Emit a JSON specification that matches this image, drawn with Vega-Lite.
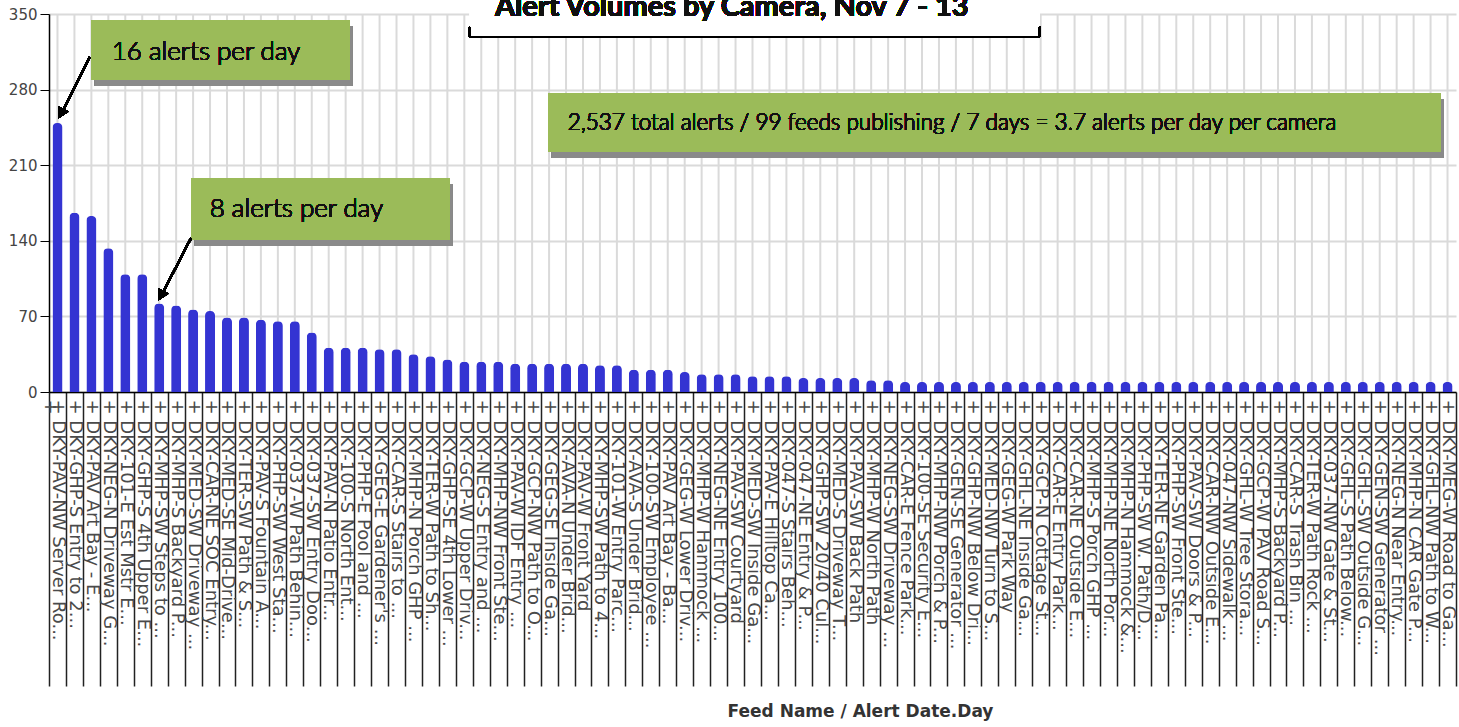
{
  "$schema": "https://vega.github.io/schema/vega-lite/v6.json",
  "autosize": {"type": "none"},
  "padding": {"left": 49, "top": 14, "right": 3, "bottom": 335},
  "width": 1407,
  "height": 378,
  "background": "white",
  "config": {"view": {"stroke": null}},
  "data": {"values": [
    {"feed": "DKY-PAV-NW Server Ro...", "alerts": 249},
    {"feed": "DKY-GHP-S Entry to 2...", "alerts": 166},
    {"feed": "DKY-PAV Art Bay - E...", "alerts": 163},
    {"feed": "DKY-NEG-N Driveway G...", "alerts": 133},
    {"feed": "DKY-101-E Est Mstr E...", "alerts": 109},
    {"feed": "DKY-GHP-S 4th Upper E...", "alerts": 109},
    {"feed": "DKY-MHP-SW Steps to ...", "alerts": 82},
    {"feed": "DKY-MHP-S Backyard P...", "alerts": 80},
    {"feed": "DKY-MED-SW Driveway ...", "alerts": 76.5},
    {"feed": "DKY-CAR-NE SOC Entry...", "alerts": 75},
    {"feed": "DKY-MED-SE Mid-Drive...", "alerts": 69},
    {"feed": "DKY-TER-SW Path & S...", "alerts": 69},
    {"feed": "DKY-PAV-S Fountain A...", "alerts": 67},
    {"feed": "DKY-PHP-SW West Sta...", "alerts": 65.5},
    {"feed": "DKY-037-W Path Behin...", "alerts": 65.5},
    {"feed": "DKY-037-SW Entry Doo...", "alerts": 55},
    {"feed": "DKY-PAV-N Patio Entr...", "alerts": 41},
    {"feed": "DKY-100-S North Ent...", "alerts": 41},
    {"feed": "DKY-PHP-E Pool and ...", "alerts": 41},
    {"feed": "DKY-GEG-E Gardener's ...", "alerts": 39.5},
    {"feed": "DKY-CAR-S Stairs to ...", "alerts": 39.5},
    {"feed": "DKY-MHP-N Porch GHP ...", "alerts": 35},
    {"feed": "DKY-TER-W Path to Sh...", "alerts": 33},
    {"feed": "DKY-GHP-SE 4th Lower ...", "alerts": 30},
    {"feed": "DKY-GCP-W Upper Driv...", "alerts": 28},
    {"feed": "DKY-NEG-S Entry and ...", "alerts": 28},
    {"feed": "DKY-MHP-NW Front Ste...", "alerts": 28},
    {"feed": "DKY-PAV-W IDF Entry ...", "alerts": 26.2},
    {"feed": "DKY-GCP-NW Path to O...", "alerts": 26.2},
    {"feed": "DKY-GEG-SE Inside Ga...", "alerts": 26.2},
    {"feed": "DKY-AVA-N Under Brid...", "alerts": 26.2},
    {"feed": "DKY-PAV-W Front Yard", "alerts": 26.2},
    {"feed": "DKY-MHP-SW Path to 4...", "alerts": 24.7},
    {"feed": "DKY-101-W Entry Parc...", "alerts": 24.7},
    {"feed": "DKY-AVA-S Under Brid...", "alerts": 20.7},
    {"feed": "DKY-100-SW Employee ...", "alerts": 20.7},
    {"feed": "DKY-PAV Art Bay - Ba...", "alerts": 20.7},
    {"feed": "DKY-GEG-W Lower Driv...", "alerts": 18.5},
    {"feed": "DKY-MHP-W Hammock ...", "alerts": 16.4},
    {"feed": "DKY-NEG-NE Entry 100...", "alerts": 16.4},
    {"feed": "DKY-PAV-SW Courtyard", "alerts": 16.4},
    {"feed": "DKY-MED-SW Inside Ga...", "alerts": 14.5},
    {"feed": "DKY-PAV-E Hilltop Ca...", "alerts": 14.5},
    {"feed": "DKY-047-S Stairs Beh...", "alerts": 14.5},
    {"feed": "DKY-047-NE Entry & P...", "alerts": 13},
    {"feed": "DKY-GHP-SW 20/40 Cul...", "alerts": 13},
    {"feed": "DKY-MED-S Driveway T...", "alerts": 13},
    {"feed": "DKY-PAV-SW Back Path", "alerts": 13},
    {"feed": "DKY-MHP-W North Path", "alerts": 10.8},
    {"feed": "DKY-NEG-SW Driveway ...", "alerts": 10.8},
    {"feed": "DKY-CAR-E Fence Park...", "alerts": 9.3},
    {"feed": "DKY-100-SE Security E...", "alerts": 9.3},
    {"feed": "DKY-MHP-NW Porch & P...", "alerts": 9.3},
    {"feed": "DKY-GEN-SE Generator ...", "alerts": 9.3},
    {"feed": "DKY-GHP-NW Below Dri...", "alerts": 9.3},
    {"feed": "DKY-MED-NW Turn to S...", "alerts": 9.3},
    {"feed": "DKY-GEG-W Park Way", "alerts": 9.3},
    {"feed": "DKY-GHL-NE Inside Ga...", "alerts": 9.3},
    {"feed": "DKY-GCP-N Cottage St...", "alerts": 9.3},
    {"feed": "DKY-CAR-E Entry Park...", "alerts": 9.3},
    {"feed": "DKY-CAR-NE Outside E...", "alerts": 9.3},
    {"feed": "DKY-MHP-S Porch GHP ...", "alerts": 9.3},
    {"feed": "DKY-MHP-NE North Por...", "alerts": 9.3},
    {"feed": "DKY-MHP-N Hammock &...", "alerts": 9.3},
    {"feed": "DKY-PHP-SW W. Path/D...", "alerts": 9.3},
    {"feed": "DKY-TER-NE Garden Pa...", "alerts": 9.3},
    {"feed": "DKY-PHP-SW Front Ste...", "alerts": 9.3},
    {"feed": "DKY-PAV-SW Doors & P...", "alerts": 9.3},
    {"feed": "DKY-CAR-NW Outside E...", "alerts": 9.3},
    {"feed": "DKY-047-NW Sidewalk ...", "alerts": 9.3},
    {"feed": "DKY-GHL-W Tree Stora...", "alerts": 9.3},
    {"feed": "DKY-GCP-W PAV Road S...", "alerts": 9.3},
    {"feed": "DKY-MHP-S Backyard P... ", "alerts": 9.3},
    {"feed": "DKY-CAR-S Trash Bin ...", "alerts": 9.3},
    {"feed": "DKY-TER-W Path Rock ...", "alerts": 9.3},
    {"feed": "DKY-037-NW Gate & St...", "alerts": 9.3},
    {"feed": "DKY-GHL-S Path Below...", "alerts": 9.3},
    {"feed": "DKY-GHL-SW Outside G...", "alerts": 9.3},
    {"feed": "DKY-GEN-SW Generator ...", "alerts": 9.3},
    {"feed": "DKY-NEG-N Near Entry...", "alerts": 9.3},
    {"feed": "DKY-MHP-N CAR Gate P...", "alerts": 9.3},
    {"feed": "DKY-GHL-NW Path to W...", "alerts": 9.3},
    {"feed": "DKY-MEG-W Road to Ga...", "alerts": 9.3}
  ]},
  "resolve": {"scale": {"x": "independent"}},
  "layer": [
    {
      "mark": {"type": "rule", "color": "#dadada", "strokeWidth": 2},
      "encoding": {
        "x": {"field": "feed", "type": "nominal", "sort": null, "scale": {"paddingInner": 0, "paddingOuter": 0}, "axis": null}
      }
    },
    {
      "mark": {"type": "bar", "color": "#3434d2", "width": {"band": 0.59}, "cornerRadiusTopLeft": 4.5, "cornerRadiusTopRight": 4.5},
      "encoding": {
        "x": {"field": "feed", "type": "nominal", "sort": null, "scale": {"paddingInner": 0, "paddingOuter": 0},
          "axis": {
            "title": "Feed Name / Alert Date.Day",
            "titleFont": "DejaVu Sans", "titleFontSize": 17, "titleFontWeight": "bold", "titleColor": "#333",
            "titleX": 811, "titleY": 324, "titleAlign": "center", "titleBaseline": "alphabetic",
            "labelAngle": 90, "labelAlign": "left", "labelBaseline": "middle", "labelPadding": -287,
            "labelFont": "DejaVu Sans", "labelFontSize": 18, "labelColor": "#4a4a4a", "labelLimit": 0,
            "labelOverlap": false, "labelFlush": false, "labelBound": false,
            "labelExpr": "'+  ' + datum.label",
            "tickBand": "extent", "tickSize": 294, "tickColor": "#222", "tickWidth": 1.5,
            "domainColor": "#000", "domainWidth": 1.5, "grid": false
          }
        },
        "y": {"field": "alerts", "type": "quantitative", "scale": {"domain": [0, 350], "nice": false},
          "axis": {
            "values": [0, 70, 140, 210, 280, 350], "title": null,
            "labelFont": "DejaVu Sans", "labelFontSize": 15, "labelColor": "#444", "labelPadding": 3,
            "tickSize": 9, "tickColor": "#000", "tickWidth": 1,
            "domainColor": "#000", "domainWidth": 1.5,
            "grid": true, "gridColor": "#dadada", "gridWidth": 2
          }
        }
      }
    },
    {
      "mark": {"type": "rect", "color": "#8a8a8a", "opacity": 0.5, "xOffset": 3, "x2Offset": 3, "yOffset": 6, "y2Offset": 6},
      "encoding": {
        "x": {"datum": 2.52, "type": "quantitative", "scale": {"domain": [0, 83], "nice": false, "zero": false}, "axis": null},
        "x2": {"datum": 17.74},
        "y": {"datum": 344.4, "type": "quantitative", "scale": {"domain": [0, 350], "nice": false}},
        "y2": {"datum": 288.9}
      }
    },
    {
      "mark": {"type": "rect", "color": "#9bbb59"},
      "encoding": {
        "x": {"datum": 2.52, "type": "quantitative", "scale": {"domain": [0, 83], "nice": false, "zero": false}, "axis": null},
        "x2": {"datum": 17.74},
        "y": {"datum": 344.4, "type": "quantitative", "scale": {"domain": [0, 350], "nice": false}},
        "y2": {"datum": 288.9}
      }
    },
    {
      "mark": {"type": "text", "text": "16 alerts per day", "font": "Lato", "fontSize": 26, "fontWeight": 300, "color": "#111", "align": "left", "baseline": "alphabetic"},
      "encoding": {
        "x": {"datum": 3.7, "type": "quantitative", "scale": {"domain": [0, 83], "nice": false, "zero": false}, "axis": null},
        "y": {"datum": 307.4, "type": "quantitative", "scale": {"domain": [0, 350], "nice": false}}
      }
    },
    {
      "mark": {"type": "rect", "color": "#8a8a8a", "opacity": 0.5, "xOffset": 3, "x2Offset": 3, "yOffset": 6, "y2Offset": 6},
      "encoding": {
        "x": {"datum": 8.42, "type": "quantitative", "scale": {"domain": [0, 83], "nice": false, "zero": false}, "axis": null},
        "x2": {"datum": 23.64},
        "y": {"datum": 198.1, "type": "quantitative", "scale": {"domain": [0, 350], "nice": false}},
        "y2": {"datum": 140.7}
      }
    },
    {
      "mark": {"type": "rect", "color": "#9bbb59"},
      "encoding": {
        "x": {"datum": 8.42, "type": "quantitative", "scale": {"domain": [0, 83], "nice": false, "zero": false}, "axis": null},
        "x2": {"datum": 23.64},
        "y": {"datum": 198.1, "type": "quantitative", "scale": {"domain": [0, 350], "nice": false}},
        "y2": {"datum": 140.7}
      }
    },
    {
      "mark": {"type": "text", "text": "8 alerts per day", "font": "Lato", "fontSize": 26, "fontWeight": 300, "color": "#111", "align": "left", "baseline": "alphabetic"},
      "encoding": {
        "x": {"datum": 9.48, "type": "quantitative", "scale": {"domain": [0, 83], "nice": false, "zero": false}, "axis": null},
        "y": {"datum": 162.0, "type": "quantitative", "scale": {"domain": [0, 350], "nice": false}}
      }
    },
    {
      "mark": {"type": "rect", "color": "#8a8a8a", "opacity": 0.5, "xOffset": 3, "x2Offset": 3, "yOffset": 6, "y2Offset": 6},
      "encoding": {
        "x": {"datum": 29.48, "type": "quantitative", "scale": {"domain": [0, 83], "nice": false, "zero": false}, "axis": null},
        "x2": {"datum": 82.1},
        "y": {"datum": 276.9, "type": "quantitative", "scale": {"domain": [0, 350], "nice": false}},
        "y2": {"datum": 222.2}
      }
    },
    {
      "mark": {"type": "rect", "color": "#9bbb59"},
      "encoding": {
        "x": {"datum": 29.48, "type": "quantitative", "scale": {"domain": [0, 83], "nice": false, "zero": false}, "axis": null},
        "x2": {"datum": 82.1},
        "y": {"datum": 276.9, "type": "quantitative", "scale": {"domain": [0, 350], "nice": false}},
        "y2": {"datum": 222.2}
      }
    },
    {
      "mark": {"type": "text", "text": "2,537 total alerts / 99 feeds publishing / 7 days = 3.7 alerts per day per camera", "font": "Lato", "fontSize": 22.5, "fontWeight": 300, "color": "#111", "align": "left", "baseline": "alphabetic"},
      "encoding": {
        "x": {"datum": 30.6, "type": "quantitative", "scale": {"domain": [0, 83], "nice": false, "zero": false}, "axis": null},
        "y": {"datum": 242.5, "type": "quantitative", "scale": {"domain": [0, 350], "nice": false}}
      }
    },
    {
      "mark": {"type": "rule", "color": "#000", "strokeWidth": 2},
      "encoding": {
        "x": {"datum": 2.4, "type": "quantitative", "scale": {"domain": [0, 83], "nice": false, "zero": false}, "axis": null},
        "x2": {"datum": 0.75},
        "y": {"datum": 310.2, "type": "quantitative", "scale": {"domain": [0, 350], "nice": false}},
        "y2": {"datum": 258.5}
      }
    },
    {
      "mark": {"type": "point", "shape": "triangle-up", "filled": true, "color": "#000", "opacity": 1, "size": 150, "angle": 207},
      "encoding": {
        "x": {"datum": 0.71, "type": "quantitative", "scale": {"domain": [0, 83], "nice": false, "zero": false}, "axis": null},
        "y": {"datum": 257.9, "type": "quantitative", "scale": {"domain": [0, 350], "nice": false}}
      }
    },
    {
      "mark": {"type": "rule", "color": "#000", "strokeWidth": 2},
      "encoding": {
        "x": {"datum": 8.38, "type": "quantitative", "scale": {"domain": [0, 83], "nice": false, "zero": false}, "axis": null},
        "x2": {"datum": 6.65},
        "y": {"datum": 142.6, "type": "quantitative", "scale": {"domain": [0, 350], "nice": false}},
        "y2": {"datum": 90}
      }
    },
    {
      "mark": {"type": "point", "shape": "triangle-up", "filled": true, "color": "#000", "opacity": 1, "size": 150, "angle": 207},
      "encoding": {
        "x": {"datum": 6.61, "type": "quantitative", "scale": {"domain": [0, 83], "nice": false, "zero": false}, "axis": null},
        "y": {"datum": 89.3, "type": "quantitative", "scale": {"domain": [0, 350], "nice": false}}
      }
    },
    {
      "mark": {"type": "rect", "color": "#ffffff"},
      "encoding": {
        "x": {"datum": 24.82, "type": "quantitative", "scale": {"domain": [0, 83], "nice": false, "zero": false}, "axis": null},
        "x2": {"datum": 58.45},
        "y": {"datum": 372, "type": "quantitative", "scale": {"domain": [0, 350], "nice": false}},
        "y2": {"datum": 328.7}
      }
    },
    {
      "mark": {"type": "rule", "color": "#000", "strokeWidth": 2},
      "encoding": {
        "x": {"datum": 24.82, "type": "quantitative", "scale": {"domain": [0, 83], "nice": false, "zero": false}, "axis": null},
        "x2": {"datum": 58.45},
        "y": {"datum": 328.7, "type": "quantitative", "scale": {"domain": [0, 350], "nice": false}}
      }
    },
    {
      "mark": {"type": "rule", "color": "#000", "strokeWidth": 2},
      "encoding": {
        "x": {"datum": 24.82, "type": "quantitative", "scale": {"domain": [0, 83], "nice": false, "zero": false}, "axis": null},
        "y": {"datum": 338, "type": "quantitative", "scale": {"domain": [0, 350], "nice": false}},
        "y2": {"datum": 328.7}
      }
    },
    {
      "mark": {"type": "rule", "color": "#000", "strokeWidth": 2},
      "encoding": {
        "x": {"datum": 58.45, "type": "quantitative", "scale": {"domain": [0, 83], "nice": false, "zero": false}, "axis": null},
        "y": {"datum": 338, "type": "quantitative", "scale": {"domain": [0, 350], "nice": false}},
        "y2": {"datum": 328.7}
      }
    },
    {
      "mark": {"type": "text", "text": "Alert Volumes by Camera, Nov 7 - 13", "font": "Lato", "fontSize": 29, "fontWeight": "bold", "color": "#111", "align": "center", "baseline": "alphabetic"},
      "encoding": {
        "x": {"datum": 40.28, "type": "quantitative", "scale": {"domain": [0, 83], "nice": false, "zero": false}, "axis": null},
        "y": {"datum": 348.1, "type": "quantitative", "scale": {"domain": [0, 350], "nice": false}}
      }
    }
  ]
}
